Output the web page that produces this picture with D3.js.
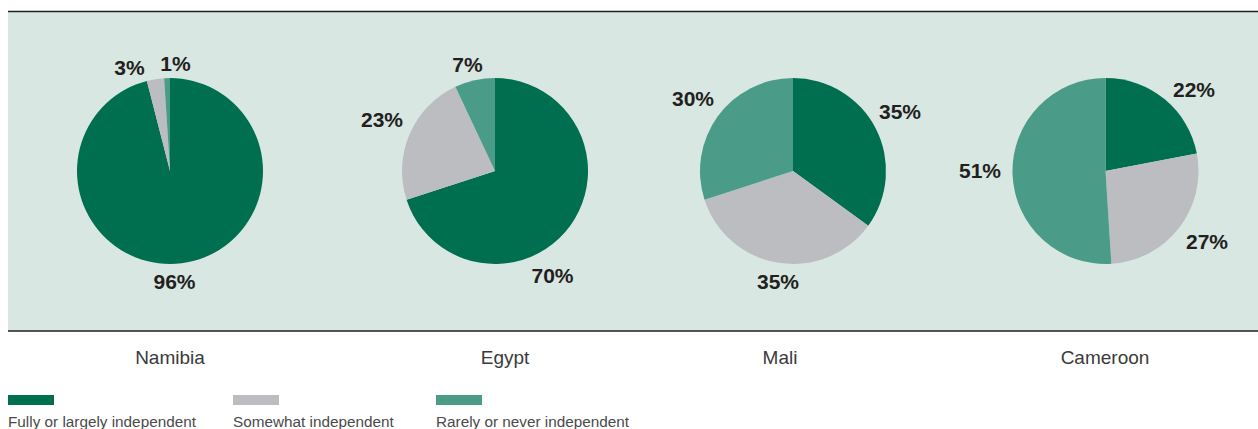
<!DOCTYPE html>
<html>
<head>
<meta charset="utf-8">
<script src="https://cdn.jsdelivr.net/npm/d3@7"></script>
<style>
  html, body { margin: 0; padding: 0; background: #ffffff; }
  svg { display: block; }
</style>
</head>
<body>
<svg id="chart" width="1258" height="429"></svg>
<script>
// ---- data ----
const countries = ["Namibia", "Egypt", "Mali", "Cameroon"];
const seriesNames = ["Fully or largely independent", "Somewhat independent", "Rarely or never independent"];
const fully    = [96, 70, 35, 22];
const somewhat = [3, 23, 35, 27];
const rarely   = [1, 7, 30, 51];

// ---- layout (not data) ----
const pieCenterX = [170, 495, 793, 1105.5];
const countryLabelX = [170, 505, 780, 1105];
const labelOffsets = [
  [[4.5, 110], [-40.5, -104], [5.5, -108]],
  [[57.5, 104], [-113, -52], [-27.5, -107]],
  [[107, -60], [-15, 110], [-100, -73]],
  [[88.5, -82], [101.5, 70], [-125.5, -1]]
];
const colors = ["#006f4f", "#bcbdc0", "#4a9b87"];

const svg = d3.select("#chart");
const W = 1258, H = 429;

// panel background
svg.append("rect").attr("x", 8).attr("y", 11).attr("width", W - 8).attr("height", 320)
  .attr("fill", "#d9e7e2");
svg.append("line").attr("x1", 8).attr("x2", W).attr("y1", 11.5).attr("y2", 11.5)
  .attr("stroke", "#231f20").attr("stroke-width", 1.3);
svg.append("line").attr("x1", 8).attr("x2", W).attr("y1", 331).attr("y2", 331)
  .attr("stroke", "#231f20").attr("stroke-width", 1.5);

const pie = d3.pie().sort(null).value(d => d.v);
const arc = d3.arc().innerRadius(0).outerRadius(93);
const color = d3.scaleOrdinal().domain(seriesNames).range(colors);
const pieCY = 171;

countries.forEach((c, i) => {
  const vals = [
    { s: seriesNames[0], v: fully[i] },
    { s: seriesNames[1], v: somewhat[i] },
    { s: seriesNames[2], v: rarely[i] }
  ];
  const g = svg.append("g").attr("transform", `translate(${pieCenterX[i]},${pieCY})`);
  const arcs = pie(vals);
  g.selectAll("path").data(arcs).join("path")
    .attr("d", arc)
    .attr("fill", d => color(d.data.s));
  g.selectAll("text").data(arcs).join("text")
    .attr("x", (d, j) => labelOffsets[i][j][0])
    .attr("y", (d, j) => labelOffsets[i][j][1])
    .attr("dy", "0.36em")
    .attr("text-anchor", "middle")
    .attr("font-family", "Liberation Sans, Arial, sans-serif")
    .attr("font-weight", "bold")
    .attr("font-size", 21)
    .attr("fill", "#231f20")
    .text(d => d.data.v + "%");

  svg.append("text")
    .attr("x", countryLabelX[i]).attr("y", 364)
    .attr("text-anchor", "middle")
    .attr("font-family", "Liberation Sans, Arial, sans-serif")
    .attr("font-size", 19)
    .attr("fill", "#3a3a3a")
    .text(c);
});

// legend
const legendX = [8, 233, 436];
seriesNames.forEach((s, i) => {
  svg.append("rect").attr("x", legendX[i]).attr("y", 395).attr("width", 46).attr("height", 10)
    .attr("fill", color(s));
  svg.append("text").attr("x", legendX[i]).attr("y", 427)
    .attr("font-family", "Liberation Sans, Arial, sans-serif")
    .attr("font-size", 15.3)
    .attr("fill", "#4a4a4a")
    .text(s);
});
</script>
</body>
</html>
